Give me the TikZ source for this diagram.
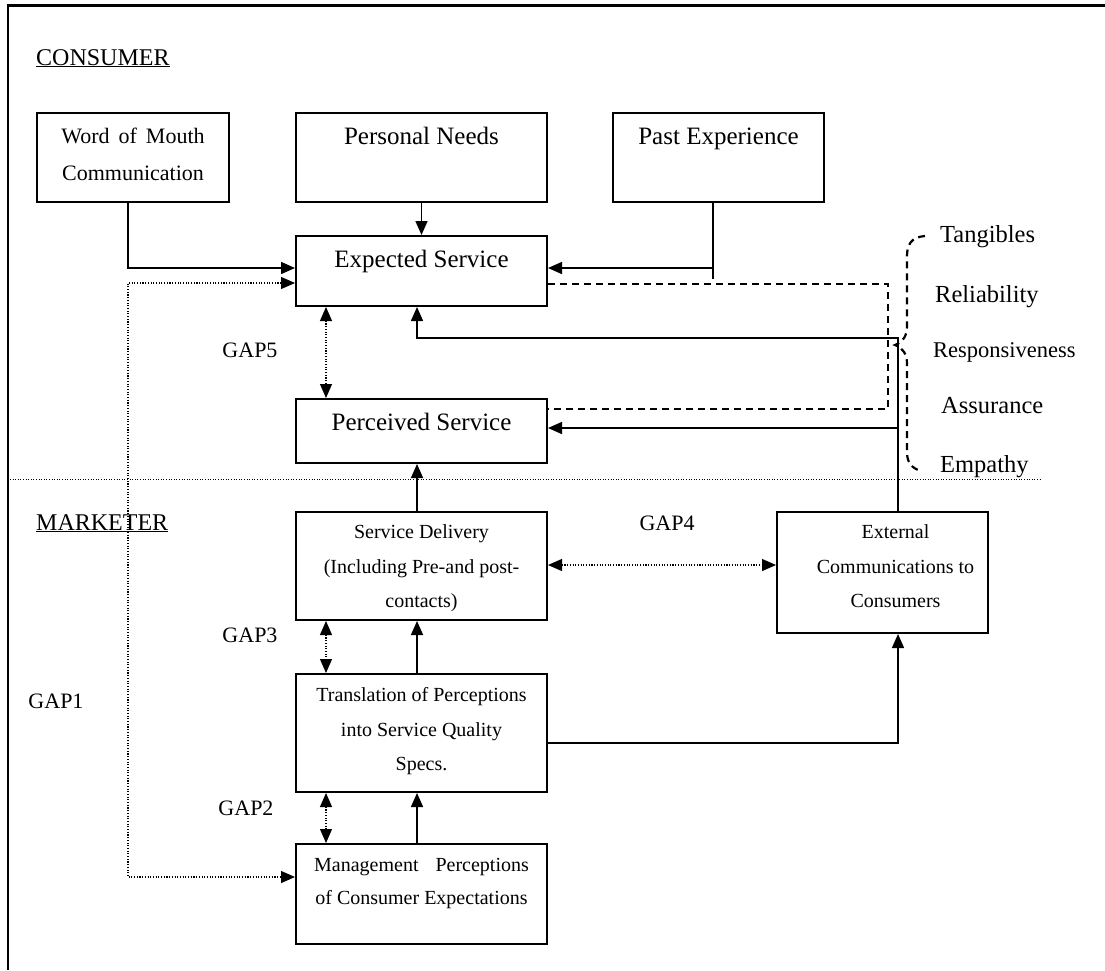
\documentclass[tikz,border=0pt]{standalone}
\usepackage{fontspec}
\setmainfont{Liberation Serif}
\usetikzlibrary{arrows.meta, positioning, calc}

\begin{document}
\begin{tikzpicture}[
	x = 1pt, y = -1pt,
	box/.style = {rectangle, draw, line width=2pt, anchor=north, inner sep=0pt, align=center},
	big/.style = {font=\fontsize{25pt}{30pt}\selectfont, text height=31pt},
	small/.style = {font=\fontsize{20pt}{34.5pt}\selectfont},
	line/.style = {draw, line width=1.5pt, -{Triangle[length=14pt, width=12pt]}},
	gap/.style = {draw, line width=1.1pt, dash pattern=on 1.1pt off 1.6pt, {Triangle[length=14pt, width=12pt]}-{Triangle[length=14pt, width=12pt]}},
	dim/.style = {draw, line width=2.2pt, dash pattern=on 7pt off 5pt},
	title/.style = {anchor=base west, inner sep=0pt, font=\fontsize{24pt}{28pt}\selectfont},
	gaplabel/.style = {font=\fontsize{22pt}{26pt}\selectfont},
	dimlabel/.style = {anchor=base west, inner sep=0pt, font=\fontsize{24.5pt}{28pt}\selectfont}
	]
	\useasboundingbox (0,0) rectangle (1105,970);
	
	% Frame and divider
	\draw [line width=2.2pt] (1105,5.5) -- (8,5.5) -- (8,970);
	\draw [line width=0.9pt, dash pattern=on 1pt off 1.6pt] (10,479) -- (1041,479);
	
	\node [title] (consumer) at (36,65) {\underline{CONSUMER}};
	\node [title] (marketer) at (36,530) {\underline{MARKETER}};
	
	% Consumer side
	\node [box, minimum width=192pt, text height=67pt, text depth=22pt, font=\fontsize{22pt}{37pt}\selectfont] (wom) at (133,112) {Word\hspace{9pt}of\hspace{9pt}Mouth\\Communication};
	\node [box, big, minimum width=251pt, text depth=58pt] (needs) at (421.5,112) {Personal Needs};
	\node [box, big, minimum width=211pt, text depth=58pt] (past) at (718.5,112) {Past Experience};
	\node [box, big, minimum width=251pt, text depth=39pt] (expected) at (421.5,235) {Expected Service};
	\node [box, big, minimum width=251pt, text depth=33pt] (perceived) at (421.5,398) {Perceived Service};
	
	% Marketer side
	\node [box, small, minimum width=251pt, text height=95.5pt, text depth=12.5pt] (delivery) at (421.5,511) {Service Delivery\\(Including Pre-and post-\\contacts)};
	\node [box, small, minimum width=211pt, text height=95.5pt, text depth=25.5pt] (external) at (882.5,511) {\hspace*{26pt}External\\\hspace*{26pt}Communications to\\\hspace*{26pt}Consumers};
	\node [box, small, minimum width=251pt, text height=96.5pt, text depth=21.5pt] (translation) at (421.5,673) {Translation of Perceptions\\into Service Quality\\Specs.};
	\node [box, minimum width=251pt, text height=60.5pt, text depth=39.5pt, font=\fontsize{20pt}{33pt}\selectfont] (management) at (421.5,843) {Management\hspace{17pt}Perceptions\\of Consumer Expectations};
	
	% Gaps
	\node [gaplabel] (gap5) at (250,350) {GAP5};
	\node [gaplabel] (gap4) at (667,523) {GAP4};
	\node [gaplabel] (gap3) at (250,635) {GAP3};
	\node [gaplabel] (gap2) at (246,808) {GAP2};
	\node [gaplabel] (gap1) at (56,701) {GAP1};
	
	% Dimensions
	\node [dimlabel] (tangibles) at (940,242) {Tangibles};
	\node [dimlabel] (reliability) at (935,302) {Reliability};
	\node [dimlabel, font=\fontsize{22.5pt}{26pt}\selectfont] (responsiveness) at (933,357) {Responsiveness};
	\node [dimlabel] (assurance) at (941,413) {Assurance};
	\node [dimlabel] (empathy) at (940,472) {Empathy};
	
	% Turning points
	\coordinate (mid) at (417,0);
	\coordinate (gapx) at (326,0);
	\coordinate (womturn) at (128,268);
	\coordinate (pastturn) at (713,268);
	\coordinate (dtop) at (888,284);
	\coordinate (dbot) at (888,409);
	\coordinate (fb) at (898,338);
	\coordinate (fbexp) at (417,338);
	\coordinate (fbperc) at (898,428);
	\coordinate (gap4y) at (0,565);
	\coordinate (specturn) at (898,743);
	\coordinate (gap1top) at (128,283);
	\coordinate (gap1bot) at (128,877);
	
	% Lines
	\path [line] (wom.south -| womturn) -- (womturn) -- (expected.west |- womturn);
	\path [line] (needs) -- (expected);
	\draw [line width=1.5pt] (past.south -| pastturn) -- ++(0,76);
	\path [line] (pastturn) -- (expected.east |- pastturn);
	\path [gap] (expected.south -| gapx) -- (perceived.north -| gapx);
	
	\draw [dim] (expected.east |- dtop) -- (dtop) -- (dbot) -- (perceived.east |- dbot);
	\draw [dim] (925,236) .. controls (911,237) and (907,245) .. (907,256) -- (907,326)
		.. controls (907,336) and (903,342) .. (895,345)
		.. controls (903,348) and (907,354) .. (907,364) -- (907,452)
		.. controls (907,462) and (911,468) .. (921,471);
	
	\path [line] (external.north -| fb) -- (fb) -- (fbexp) -- (expected.south -| fbexp);
	\path [line] (fbperc) -- (perceived.east |- fbperc);
	
	\path [line] (delivery.north -| mid) -- (perceived.south -| mid);
	\path [gap] (delivery.east |- gap4y) -- (external.west |- gap4y);
	\path [gap] (delivery.south -| gapx) -- (translation.north -| gapx);
	\path [line] (translation.north -| mid) -- (delivery.south -| mid);
	\path [line] (translation.east |- specturn) -- (specturn) -- (external.south -| specturn);
	\path [gap] (translation.south -| gapx) -- (management.north -| gapx);
	\path [line] (management.north -| mid) -- (translation.south -| mid);
	\path [gap] (expected.west |- gap1top) -- (gap1top) -- (gap1bot) -- (management.west |- gap1bot);
\end{tikzpicture}
\end{document}
